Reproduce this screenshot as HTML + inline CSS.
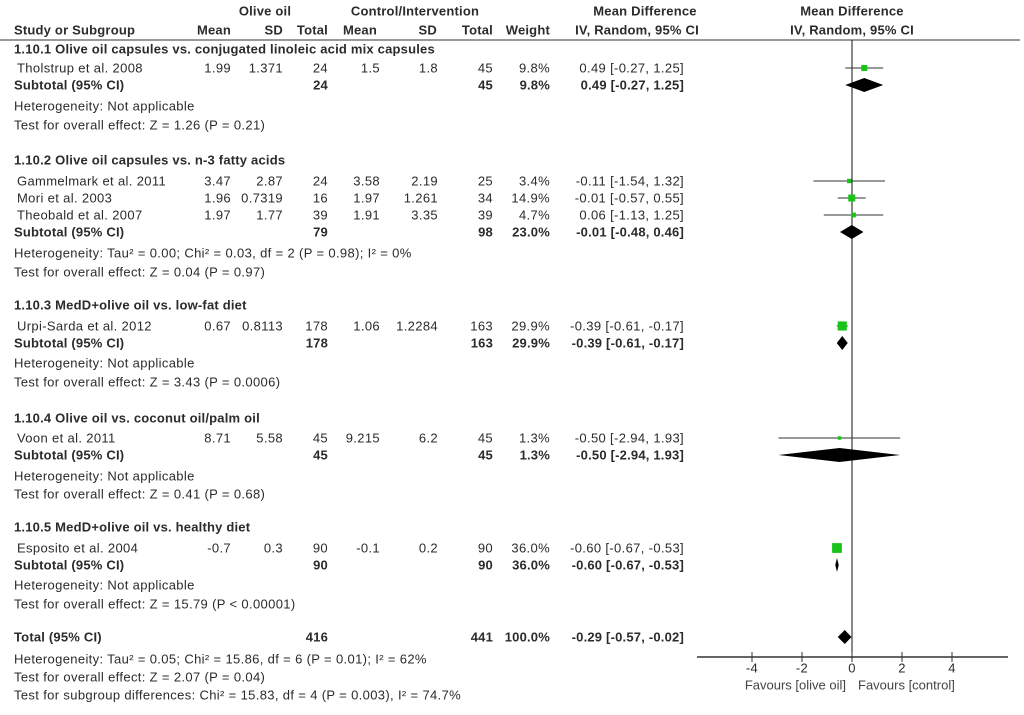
<!DOCTYPE html>
<html><head><meta charset="utf-8"><style>
body{margin:0;background:#fff}
svg text{font-family:"Liberation Sans",Arial,sans-serif;font-size:13px;letter-spacing:0.35px;fill:#2b2b2b}
.b{font-weight:bold;letter-spacing:0.2px}
</style></head><body>
<svg id="c" width="1024" height="710" xmlns="http://www.w3.org/2000/svg"></svg>
<script>
// data
const studyNames=["Tholstrup et al. 2008","Gammelmark et al. 2011","Mori et al. 2003","Theobald et al. 2007","Urpi-Sarda et al. 2012","Voon et al. 2011","Esposito et al. 2004"];
const studyMD=[0.49,-0.11,-0.01,0.06,-0.39,-0.50,-0.60];
const studyLo=[-0.27,-1.54,-0.57,-1.13,-0.61,-2.94,-0.67];
const studyHi=[1.25,1.32,0.55,1.25,-0.17,1.93,-0.53];
const studyW=[9.8,3.4,14.9,4.7,29.9,1.3,36.0];
const studyY=[68,181,198,215,326,438,548];
const subMD=[0.49,-0.01,-0.39,-0.50,-0.60,-0.29];
const subLo=[-0.27,-0.48,-0.61,-2.94,-0.67,-0.57];
const subHi=[1.25,0.46,-0.17,1.93,-0.53,-0.02];
const subY=[85,232,343,455,565,637];
const axisTicks=[-4,-2,0,2,4];

const svg=document.getElementById('c');
const NS='http://www.w3.org/2000/svg';
function el(tag,attrs,txt){const e=document.createElementNS(NS,tag);for(const k in attrs)e.setAttribute(k,attrs[k]);if(txt!==undefined)e.textContent=txt;svg.appendChild(e);return e;}
const X=v=>852+25*v;

function t(x,y,s,opt){opt=opt||{};const e=el('text',{x:x,y:y+4.5,'text-anchor':opt.a||'start','class':opt.b?'b':''},s);

return e;}

// headers
t(265,11,"Olive oil",{a:'middle',b:1,n:'olive-oil-header'});
t(415,11,"Control/Intervention",{a:'middle',b:1,n:'control-header'});
t(645,11,"Mean Difference",{a:'middle',b:1,n:'md-header'});
t(852,11,"Mean Difference",{a:'middle',b:1,n:'plot-header'});
t(14,30,"Study or Subgroup",{b:1,n:'study-header'});
const hc=[[231,"Mean"],[283,"SD"],[328,"Total"],[377,"Mean"],[437,"SD"],[493,"Total"],[550,"Weight"]];
hc.forEach(h=>t(h[0],30,h[1],{a:'end',b:1,n:'column-header'}));
t(637,30,"IV, Random, 95% CI",{a:'middle',b:1,n:'md-subheader'});
t(852,30,"IV, Random, 95% CI",{a:'middle',b:1,n:'plot-subheader'});
let hl=el('line',{x1:0,y1:40,x2:1020,y2:40,stroke:'#333','stroke-width':1});


// table rows
const rows=[
[49,"1.10.1 Olive oil capsules vs. conjugated linoleic acid mix capsules",1],
[106,"Heterogeneity: Not applicable",0],[125,"Test for overall effect: Z = 1.26 (P = 0.21)",0],
[160,"1.10.2 Olive oil capsules vs. n-3 fatty acids",1],
[253,"Heterogeneity: Tau² = 0.00; Chi² = 0.03, df = 2 (P = 0.98); I² = 0%",0],[272,"Test for overall effect: Z = 0.04 (P = 0.97)",0],
[305,"1.10.3 MedD+olive oil vs. low-fat diet",1],
[363,"Heterogeneity: Not applicable",0],[382,"Test for overall effect: Z = 3.43 (P = 0.0006)",0],
[418,"1.10.4 Olive oil vs. coconut oil/palm oil",1],
[476,"Heterogeneity: Not applicable",0],[494,"Test for overall effect: Z = 0.41 (P = 0.68)",0],
[527,"1.10.5 MedD+olive oil vs. healthy diet",1],
[585,"Heterogeneity: Not applicable",0],[604,"Test for overall effect: Z = 15.79 (P < 0.00001)",0],
[659,"Heterogeneity: Tau² = 0.05; Chi² = 15.86, df = 6 (P = 0.01); I² = 62%",0],
[677,"Test for overall effect: Z = 2.07 (P = 0.04)",0],
[695,"Test for subgroup differences: Chi² = 15.83, df = 4 (P = 0.003), I² = 74.7%",0]];
rows.forEach(r=>t(14,r[0],r[1],{b:r[2],n:r[2]?'subgroup-title':'statistics-note'}));

const studyCells=[["1.99","1.371","24","1.5","1.8","45"],["3.47","2.87","24","3.58","2.19","25"],["1.96","0.7319","16","1.97","1.261","34"],["1.97","1.77","39","1.91","3.35","39"],["0.67","0.8113","178","1.06","1.2284","163"],["8.71","5.58","45","9.215","6.2","45"],["-0.7","0.3","90","-0.1","0.2","90"]];
const colR=[231,283,328,380,438,493];
const f=v=>v.toFixed(2);
studyNames.forEach((n,i)=>{const y=studyY[i];
t(17,y,n,{n:'study-name'});
studyCells[i].forEach((c,j)=>t(colR[j],y,c,{a:'end',n:'study-value'}));
t(550,y,studyW[i].toFixed(1)+"%",{a:'end',n:'study-weight'});
t(684,y,f(studyMD[i])+" ["+f(studyLo[i])+", "+f(studyHi[i])+"]",{a:'end',n:'study-ci'});
});
const subTot=[["24","45","9.8%"],["79","98","23.0%"],["178","163","29.9%"],["45","45","1.3%"],["90","90","36.0%"],["416","441","100.0%"]];
subY.forEach((y,i)=>{
t(14,y,i<5?"Subtotal (95% CI)":"Total (95% CI)",{b:1,n:i<5?'subtotal-label':'total-label'});
t(328,y,subTot[i][0],{a:'end',b:1,n:'subtotal-n'});
t(493,y,subTot[i][1],{a:'end',b:1,n:'subtotal-n'});
t(550,y,subTot[i][2],{a:'end',b:1,n:'subtotal-weight'});
t(684,y,f(subMD[i])+" ["+f(subLo[i])+", "+f(subHi[i])+"]",{a:'end',b:1,n:'subtotal-ci'});
});

// plot
let z=el('line',{x1:X(0),y1:40,x2:X(0),y2:657,stroke:'#111','stroke-width':1});

let ax=el('line',{x1:697,y1:657,x2:1008,y2:657,stroke:'#333','stroke-width':1.5});

axisTicks.forEach(v=>{let tk=el('line',{x1:X(v),y1:652,x2:X(v),y2:662,stroke:'#333'});

t(X(v),668,String(v),{a:'middle',n:'x-tick-label'});});
const fl=t(846,685,"Favours [olive oil]",{a:'end',n:'favours-left'});
fl.setAttribute('style','letter-spacing:0;fill:#444');
const fr=t(858,685,"Favours [control]",{a:'start',n:'favours-right'});
fr.setAttribute('style','letter-spacing:0;fill:#444');

studyMD.forEach((m,i)=>{const y=studyY[i];
let l=el('line',{x1:X(studyLo[i]),y1:y,x2:X(studyHi[i]),y2:y,stroke:'#333','stroke-width':1});

const s=2+Math.sqrt(studyW[i])*1.3;
let r=el('rect',{x:X(m)-s/2,y:y-s/2,width:s,height:s,fill:'#19c419'});
});

subMD.forEach((m,i)=>{const y=subY[i];
const p=`${X(subLo[i])},${y} ${X(m)},${y-7} ${X(subHi[i])},${y} ${X(m)},${y+7}`;
let d=el('polygon',{points:p,fill:'#000'});
});
</script>
</body></html>
